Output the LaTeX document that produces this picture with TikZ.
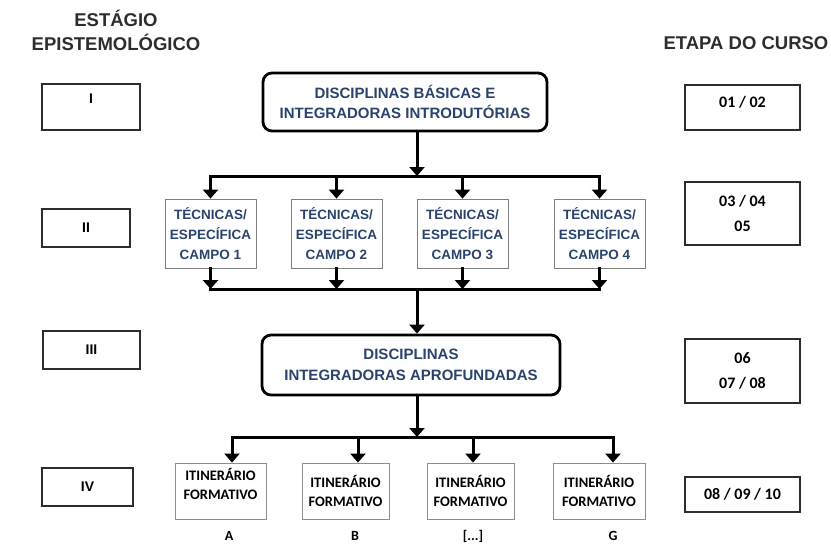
\documentclass[tikz,border=0pt]{standalone}
\usepackage{fontspec}
\setmainfont{Liberation Sans}[BoldFont={Liberation Sans Bold}]
\newfontfamily\carlito{Carlito}[BoldFont={Carlito Bold}]
\usetikzlibrary{arrows.meta,calc}
\definecolor{flowblue}{RGB}{42,67,108}
\definecolor{headgray}{RGB}{45,45,45}
\tikzset{
	head/.style={align=center,text=headgray,font=\bfseries\fontsize{18.5}{24}\selectfont},
	stage/.style={draw=headgray,line width=1.3pt,font=\bfseries\fontsize{14}{16}\selectfont},
	etapa/.style={draw=headgray,line width=1.3pt,minimum width=115,align=center,font=\carlito\bfseries\fontsize{16}{25}\selectfont},
	block/.style={draw,line width=2.8pt,rounded corners=9pt,align=center,text=flowblue,font=\bfseries\fontsize{15}{20.5}\selectfont},
	campo/.style={draw=black!50,line width=.8pt,minimum width=91,minimum height=69,align=center,text=flowblue,font=\bfseries\fontsize{13.5}{20}\selectfont},
	trilha/.style={draw=black!45,line width=.8pt,minimum height=56,align=center,font=\carlito\bfseries\fontsize{14.5}{19}\selectfont},
	letra/.style={font=\carlito\bfseries\fontsize{14}{16}\selectfont},
	bus/.style={line width=3pt,line cap=rect},
	flow/.style={line width=3pt,line cap=rect,-{Triangle[width=15pt,length=9pt]}}
}
\begin{document}
\begin{tikzpicture}[x=1pt,y=-1pt]
	\useasboundingbox (0,0) rectangle (831,544);
	% headings
	\node[head] (hstage) at (116,30) {ESTÁGIO\\EPISTEMOLÓGICO};
	\node[head] (hetapa) at (746,43) {ETAPA DO CURSO};
	% left column
	\node[stage,minimum width=98,minimum height=46,text depth=16pt] (s1) at (91,107) {I};
	\node[stage,minimum width=88,minimum height=38] (s2) at (86,228) {II};
	\node[stage,minimum width=97,minimum height=38] (s3) at (91.5,350) {III};
	\node[stage,minimum width=91,minimum height=38] (s4) at (87.5,487) {IV};
	% right column
	\node[etapa,minimum height=45,text depth=11pt] (e1) at (742.5,107.5) {01 / 02};
	\node[etapa,minimum height=63] (e2) at (742.5,213.5) {03 / 04\\05};
	\node[etapa,minimum height=64] (e3) at (742.5,371) {06\\07 / 08};
	\node[etapa,minimum height=35] (e4) at (742.5,494.5) {08 / 09 / 10};
	% main flow
	\node[block,minimum width=284,minimum height=58] (top) at (405,102) {DISCIPLINAS BÁSICAS E\\INTEGRADORAS INTRODUTÓRIAS};
	\foreach \n/\x in {1/210.5,2/336.5,3/462.5,4/599.5}
		\node[campo] (c\n) at (\x,233.5) {TÉCNICAS/\\ESPECÍFICA\\CAMPO \n};
	\node[block,minimum width=298,minimum height=60] (mid) at (411,365) {DISCIPLINAS\\INTEGRADORAS APROFUNDADAS};
	\node[trilha,minimum width=91,text depth=14pt] (t1) at (220.5,491) {ITINERÁRIO\\FORMATIVO};
	\node[trilha,minimum width=87] (t2) at (345.5,491) {ITINERÁRIO\\FORMATIVO};
	\node[trilha,minimum width=87] (t3) at (470.5,491) {ITINERÁRIO\\FORMATIVO};
	\node[trilha,minimum width=92] (t4) at (599,491) {ITINERÁRIO\\FORMATIVO};
	\foreach \n/\x/\l in {1/229/A,2/355/B,3/473/{[...]},4/613/G}
		\node[letra,inner sep=1pt] (l\n) at (\x,536) {\l};
	\path
	(417,176) coordinate (b1)
	(417,289) coordinate (b2)
	(417,437) coordinate (b3)
	(232,437) coordinate (a1)
	(358,437) coordinate (a2)
	(473,437) coordinate (a3)
	(613,437) coordinate (a4)
	;
	% connectors
	\draw[flow] (top.south -| b1) -- (b1);
	\draw[bus] (c1.north |- b1) -- (c4.north |- b1);
	\draw[bus] (c1.south |- b2) -- (c4.south |- b2);
	\foreach \n in {1,2,3,4} {
		\draw[flow] (c\n.north |- b1) -- (c\n.north);
		\draw[flow] (c\n.south) -- (c\n.south |- b2);
	}
	\draw[flow] (b2) -- (mid.north -| b2);
	\draw[flow] (mid.south -| b3) -- (b3);
	\draw[bus] (a1) -- (a4);
	\foreach \n in {1,2,3,4} \draw[flow] (a\n) -- (a\n |- t\n.north);
\end{tikzpicture}
\end{document}
